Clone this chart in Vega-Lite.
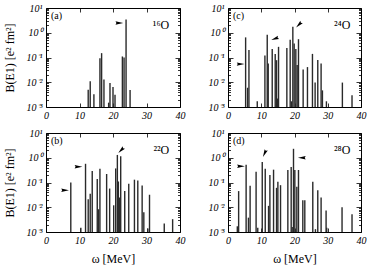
{
  "$schema": "https://vega.github.io/schema/vega-lite/v6.json",
  "padding": {"left": 2, "top": 2, "right": 2, "bottom": 0},
  "background": "white",
  "datasets": {
    "bars": [
      {"p":"a","w":12.6,"b":0.005},{"p":"a","w":13.2,"b":0.011},{"p":"a","w":14.3,"b":0.0033},{"p":"a","w":16.1,"b":0.094},{"p":"a","w":16.6,"b":0.15},{"p":"a","w":17.3,"b":0.013},{"p":"a","w":18.7,"b":0.0015},{"p":"a","w":19.1,"b":0.0093},{"p":"a","w":20.0,"b":0.0064},{"p":"a","w":20.6,"b":0.0031},{"p":"a","w":22.8,"b":0.11},{"p":"a","w":23.3,"b":0.1},{"p":"a","w":23.9,"b":3.4},{"p":"a","w":25.1,"b":0.0049},
      {"p":"b","w":7.4,"b":0.1},{"p":"b","w":10.4,"b":0.0015},{"p":"b","w":11.8,"b":0.57},{"p":"b","w":12.6,"b":0.021},{"p":"b","w":13.2,"b":0.035},{"p":"b","w":13.8,"b":0.29},{"p":"b","w":15.3,"b":0.14},{"p":"b","w":15.7,"b":0.0083},{"p":"b","w":16.1,"b":0.36},{"p":"b","w":18.1,"b":0.22},{"p":"b","w":19.0,"b":0.057},{"p":"b","w":20.2,"b":0.012},{"p":"b","w":20.8,"b":0.37},{"p":"b","w":21.3,"b":1.3},{"p":"b","w":21.6,"b":0.11},{"p":"b","w":22.0,"b":0.025},{"p":"b","w":22.3,"b":1.15},{"p":"b","w":23.5,"b":0.045},{"p":"b","w":24.7,"b":0.09},{"p":"b","w":26.4,"b":0.13},{"p":"b","w":27.4,"b":0.12},{"p":"b","w":28.7,"b":0.075},{"p":"b","w":29.2,"b":0.0063},{"p":"b","w":30.4,"b":0.0014},{"p":"b","w":30.9,"b":0.032},{"p":"b","w":35.3,"b":0.0022},{"p":"b","w":37.8,"b":0.0033},
      {"p":"c","w":5.3,"b":0.65},{"p":"c","w":5.9,"b":0.006},{"p":"c","w":6.3,"b":0.2},{"p":"c","w":8.8,"b":0.0017},{"p":"c","w":11.1,"b":0.12},{"p":"c","w":11.8,"b":0.83},{"p":"c","w":12.1,"b":0.057},{"p":"c","w":13.3,"b":0.22},{"p":"c","w":14.2,"b":0.14},{"p":"c","w":14.6,"b":0.078},{"p":"c","w":14.9,"b":0.0022},{"p":"c","w":15.2,"b":0.27},{"p":"c","w":17.7,"b":0.24},{"p":"c","w":18.7,"b":0.52},{"p":"c","w":19.1,"b":0.0017},{"p":"c","w":19.5,"b":1.75},{"p":"c","w":19.9,"b":0.37},{"p":"c","w":20.4,"b":0.22},{"p":"c","w":20.8,"b":0.05},{"p":"c","w":21.2,"b":0.55},{"p":"c","w":22.6,"b":0.033},{"p":"c","w":23.9,"b":0.041},{"p":"c","w":25.4,"b":0.14},{"p":"c","w":26.2,"b":0.0097},{"p":"c","w":27.0,"b":0.08},{"p":"c","w":28.0,"b":0.057},{"p":"c","w":28.4,"b":0.0047},{"p":"c","w":29.6,"b":0.0017},{"p":"c","w":34.4,"b":0.0097},{"p":"c","w":37.3,"b":0.003},
      {"p":"d","w":2.8,"b":0.0017},{"p":"d","w":3.2,"b":0.045},{"p":"d","w":5.45,"b":0.52},{"p":"d","w":6.15,"b":0.0038},{"p":"d","w":6.65,"b":0.074},{"p":"d","w":8.45,"b":0.27},{"p":"d","w":8.95,"b":0.0015},{"p":"d","w":10.3,"b":0.68},{"p":"d","w":11.2,"b":0.36},{"p":"d","w":12.2,"b":0.0114},{"p":"d","w":12.6,"b":0.2},{"p":"d","w":13.7,"b":0.33},{"p":"d","w":14.6,"b":0.061},{"p":"d","w":15.0,"b":0.107},{"p":"d","w":15.8,"b":0.078},{"p":"d","w":18.0,"b":0.32},{"p":"d","w":19.0,"b":0.42},{"p":"d","w":19.3,"b":0.0016},{"p":"d","w":19.7,"b":2.3},{"p":"d","w":20.1,"b":0.32},{"p":"d","w":20.7,"b":0.068},{"p":"d","w":21.2,"b":0.32},{"p":"d","w":22.5,"b":0.019},{"p":"d","w":23.1,"b":0.019},{"p":"d","w":25.5,"b":0.107},{"p":"d","w":26.3,"b":0.0013},{"p":"d","w":27.0,"b":0.049},{"p":"d","w":28.0,"b":0.025},{"p":"d","w":29.5,"b":0.0074},{"p":"d","w":29.7,"b":0.0015},{"p":"d","w":34.3,"b":0.01},{"p":"d","w":37.3,"b":0.0052}
    ],
    "marks": [
      {"p":"a","w":21.9,"b":2.5,"dir":"right"},
      {"p":"b","w":5.7,"b":0.049,"dir":"right"},{"p":"b","w":9.7,"b":0.43,"dir":"right"},{"p":"b","w":22.4,"b":2.0,"dir":"downleft"},
      {"p":"c","w":3.8,"b":0.054,"dir":"right"},{"p":"c","w":14.1,"b":0.57,"dir":"leftdown"},{"p":"c","w":21.3,"b":2.1,"dir":"downleft"},
      {"p":"d","w":3.9,"b":0.45,"dir":"right"},{"p":"d","w":11.0,"b":1.5,"dir":"down"},{"p":"d","w":22.2,"b":1.0,"dir":"left"}
    ],
    "labels": [
      {"p":"a","tag":"(a)","nuc":"¹⁶O"},{"p":"b","tag":"(b)","nuc":"²²O"},{"p":"c","tag":"(c)","nuc":"²⁴O"},{"p":"d","tag":"(d)","nuc":"²⁸O"}
    ]
  },
  "vconcat": [
    {"hconcat": [
      {"width": 134, "height": 99,
       "layer": [
        {"data": {"name": "bars"}, "transform": [{"filter": "datum.p == 'a'"}],
         "mark": {"type": "rule", "color": "#2a2a2a", "strokeWidth": 1.4},
         "encoding": {
           "x": {"field": "w", "type": "quantitative", "scale": {"domain": [0, 40], "nice": false, "zero": false},
                 "axis": {"values": [0,10,20,30,40], "tickSize": -4, "labelPadding": 7.5, "title": null, "labelFlush": false, "domain": false}},
           "y": {"field": "b", "type": "quantitative", "scale": {"type": "log", "domain": [0.001, 10], "nice": false},
                 "axis": {"values": [0.001,0.002,0.003,0.004,0.005,0.006,0.007,0.008,0.009,0.01,0.02,0.03,0.04,0.05,0.06,0.07,0.08,0.09,0.1,0.2,0.3,0.4,0.5,0.6,0.7,0.8,0.9,1,2,3,4,5,6,7,8,9,10],
                          "tickSize": {"condition": {"test": "abs(log(datum.value)/LN10 - round(log(datum.value)/LN10)) < 0.001", "value": -5}, "value": -2.5},
                          "labelExpr": "abs(log(datum.value)/LN10 - round(log(datum.value)/LN10)) > 0.001 ? '' : (datum.value > 5 ? '10¹' : datum.value > 0.5 ? '10⁰' : datum.value > 0.05 ? '10⁻¹' : datum.value > 0.005 ? '10⁻²' : '10⁻³')",
                          "labelPadding": 9, "labelOverlap": false, "labelFlush": false, "title": "B(E1) [e² fm²]", "titlePadding": 10, "domain": false}},
           "y2": {"datum": 0.001}
         }},
        {"data": {"name": "marks"}, "transform": [{"filter": "datum.p == 'a'"}],
         "mark": {"type": "point", "filled": true, "color": "black", "size": 60, "opacity": 1},
         "encoding": {
           "x": {"field": "w", "type": "quantitative", "axis": null},
           "y": {"field": "b", "type": "quantitative", "axis": null},
           "shape": {"field": "dir", "type": "nominal", "legend": null, "scale": {"domain": ["right","left","downleft","leftdown","down"], "range": ["M1,0L-1,-0.45L-0.75,0L-1,0.45Z","M-1,0L1,-0.45L0.75,0L1,0.45Z","M-0.707,0.707L1.025,-0.389L0.53,-0.53L0.389,-1.025Z","M-0.94,0.342L1.094,0.081L0.705,-0.257L0.786,-0.765Z","M-0.423,0.906L0.83,-0.716L0.317,-0.68L0.015,-1.097Z"]}}
         }},
        {"data": {"name": "labels"}, "transform": [{"filter": "datum.p == 'a'"}],
         "mark": {"type": "text", "align": "left", "baseline": "middle", "font": "Liberation Serif", "fontSize": 10},
         "encoding": {"x": {"datum": 1.5, "type": "quantitative", "axis": null}, "y": {"datum": 4.6, "type": "quantitative", "axis": null}, "text": {"field": "tag"}}},
        {"data": {"name": "labels"}, "transform": [{"filter": "datum.p == 'a'"}],
         "mark": {"type": "text", "align": "right", "baseline": "middle", "font": "Liberation Serif", "fontSize": 12},
         "encoding": {"x": {"datum": 36.8, "type": "quantitative", "axis": null}, "y": {"datum": 2.0, "type": "quantitative", "axis": null}, "text": {"field": "nuc"}}},
        {"data": {"name": "bars"}, "transform": [{"filter": "datum.p == 'a'"}],
         "mark": {"type": "point", "opacity": 0},
         "encoding": {
           "x": {"field": "w", "type": "quantitative", "axis": {"orient": "top", "values": [0,10,20,30,40], "tickSize": -4, "labels": false, "title": null, "domain": false}},
           "y": {"field": "b", "type": "quantitative", "axis": {"orient": "right", "values": [0.001,0.002,0.003,0.004,0.005,0.006,0.007,0.008,0.009,0.01,0.02,0.03,0.04,0.05,0.06,0.07,0.08,0.09,0.1,0.2,0.3,0.4,0.5,0.6,0.7,0.8,0.9,1,2,3,4,5,6,7,8,9,10],
             "tickSize": {"condition": {"test": "abs(log(datum.value)/LN10 - round(log(datum.value)/LN10)) < 0.001", "value": -5}, "value": -2.5}, "labels": false, "title": null, "domain": false}}
         }}
       ],
       "resolve": {"axis": {"x": "independent", "y": "independent"}}
      },
      {"width": 133, "height": 99,
       "layer": [
        {"data": {"name": "bars"}, "transform": [{"filter": "datum.p == 'c'"}],
         "mark": {"type": "rule", "color": "#2a2a2a", "strokeWidth": 1.4},
         "encoding": {
           "x": {"field": "w", "type": "quantitative", "scale": {"domain": [0, 40], "nice": false, "zero": false},
                 "axis": {"values": [0,10,20,30,40], "tickSize": -4, "labelPadding": 7.5, "title": null, "labelFlush": false, "domain": false}},
           "y": {"field": "b", "type": "quantitative", "scale": {"type": "log", "domain": [0.001, 10], "nice": false},
                 "axis": {"values": [0.001,0.002,0.003,0.004,0.005,0.006,0.007,0.008,0.009,0.01,0.02,0.03,0.04,0.05,0.06,0.07,0.08,0.09,0.1,0.2,0.3,0.4,0.5,0.6,0.7,0.8,0.9,1,2,3,4,5,6,7,8,9,10],
                          "tickSize": {"condition": {"test": "abs(log(datum.value)/LN10 - round(log(datum.value)/LN10)) < 0.001", "value": -5}, "value": -2.5},
                          "labelExpr": "abs(log(datum.value)/LN10 - round(log(datum.value)/LN10)) > 0.001 ? '' : (datum.value > 5 ? '10¹' : datum.value > 0.5 ? '10⁰' : datum.value > 0.05 ? '10⁻¹' : datum.value > 0.005 ? '10⁻²' : '10⁻³')",
                          "labelPadding": 9, "labelOverlap": false, "labelFlush": false, "title": null, "domain": false}},
           "y2": {"datum": 0.001}
         }},
        {"data": {"name": "marks"}, "transform": [{"filter": "datum.p == 'c'"}],
         "mark": {"type": "point", "filled": true, "color": "black", "size": 60, "opacity": 1},
         "encoding": {
           "x": {"field": "w", "type": "quantitative", "axis": null},
           "y": {"field": "b", "type": "quantitative", "axis": null},
           "shape": {"field": "dir", "type": "nominal", "legend": null, "scale": {"domain": ["right","left","downleft","leftdown","down"], "range": ["M1,0L-1,-0.45L-0.75,0L-1,0.45Z","M-1,0L1,-0.45L0.75,0L1,0.45Z","M-0.707,0.707L1.025,-0.389L0.53,-0.53L0.389,-1.025Z","M-0.94,0.342L1.094,0.081L0.705,-0.257L0.786,-0.765Z","M-0.423,0.906L0.83,-0.716L0.317,-0.68L0.015,-1.097Z"]}}
         }},
        {"data": {"name": "labels"}, "transform": [{"filter": "datum.p == 'c'"}],
         "mark": {"type": "text", "align": "left", "baseline": "middle", "font": "Liberation Serif", "fontSize": 10},
         "encoding": {"x": {"datum": 1.5, "type": "quantitative", "axis": null}, "y": {"datum": 4.6, "type": "quantitative", "axis": null}, "text": {"field": "tag"}}},
        {"data": {"name": "labels"}, "transform": [{"filter": "datum.p == 'c'"}],
         "mark": {"type": "text", "align": "right", "baseline": "middle", "font": "Liberation Serif", "fontSize": 12},
         "encoding": {"x": {"datum": 36.8, "type": "quantitative", "axis": null}, "y": {"datum": 2.0, "type": "quantitative", "axis": null}, "text": {"field": "nuc"}}},
        {"data": {"name": "bars"}, "transform": [{"filter": "datum.p == 'c'"}],
         "mark": {"type": "point", "opacity": 0},
         "encoding": {
           "x": {"field": "w", "type": "quantitative", "axis": {"orient": "top", "values": [0,10,20,30,40], "tickSize": -4, "labels": false, "title": null, "domain": false}},
           "y": {"field": "b", "type": "quantitative", "axis": {"orient": "right", "values": [0.001,0.002,0.003,0.004,0.005,0.006,0.007,0.008,0.009,0.01,0.02,0.03,0.04,0.05,0.06,0.07,0.08,0.09,0.1,0.2,0.3,0.4,0.5,0.6,0.7,0.8,0.9,1,2,3,4,5,6,7,8,9,10],
             "tickSize": {"condition": {"test": "abs(log(datum.value)/LN10 - round(log(datum.value)/LN10)) < 0.001", "value": -5}, "value": -2.5}, "labels": false, "title": null, "domain": false}}
         }}
       ],
       "resolve": {"axis": {"x": "independent", "y": "independent"}}
      }
    ], "spacing": 21},
    {"hconcat": [
      {"width": 134, "height": 99,
       "layer": [
        {"data": {"name": "bars"}, "transform": [{"filter": "datum.p == 'b'"}],
         "mark": {"type": "rule", "color": "#2a2a2a", "strokeWidth": 1.4},
         "encoding": {
           "x": {"field": "w", "type": "quantitative", "scale": {"domain": [0, 40], "nice": false, "zero": false},
                 "axis": {"values": [0,10,20,30,40], "tickSize": -4, "labelPadding": 7.5, "title": "ω [MeV]", "titlePadding": 8, "labelFlush": false, "domain": false}},
           "y": {"field": "b", "type": "quantitative", "scale": {"type": "log", "domain": [0.001, 10], "nice": false},
                 "axis": {"values": [0.001,0.002,0.003,0.004,0.005,0.006,0.007,0.008,0.009,0.01,0.02,0.03,0.04,0.05,0.06,0.07,0.08,0.09,0.1,0.2,0.3,0.4,0.5,0.6,0.7,0.8,0.9,1,2,3,4,5,6,7,8,9,10],
                          "tickSize": {"condition": {"test": "abs(log(datum.value)/LN10 - round(log(datum.value)/LN10)) < 0.001", "value": -5}, "value": -2.5},
                          "labelExpr": "abs(log(datum.value)/LN10 - round(log(datum.value)/LN10)) > 0.001 ? '' : (datum.value > 5 ? '10¹' : datum.value > 0.5 ? '10⁰' : datum.value > 0.05 ? '10⁻¹' : datum.value > 0.005 ? '10⁻²' : '10⁻³')",
                          "labelPadding": 9, "labelOverlap": false, "labelFlush": false, "title": "B(E1) [e² fm²]", "titlePadding": 10, "domain": false}},
           "y2": {"datum": 0.001}
         }},
        {"data": {"name": "marks"}, "transform": [{"filter": "datum.p == 'b'"}],
         "mark": {"type": "point", "filled": true, "color": "black", "size": 60, "opacity": 1},
         "encoding": {
           "x": {"field": "w", "type": "quantitative", "axis": null},
           "y": {"field": "b", "type": "quantitative", "axis": null},
           "shape": {"field": "dir", "type": "nominal", "legend": null, "scale": {"domain": ["right","left","downleft","leftdown","down"], "range": ["M1,0L-1,-0.45L-0.75,0L-1,0.45Z","M-1,0L1,-0.45L0.75,0L1,0.45Z","M-0.707,0.707L1.025,-0.389L0.53,-0.53L0.389,-1.025Z","M-0.94,0.342L1.094,0.081L0.705,-0.257L0.786,-0.765Z","M-0.423,0.906L0.83,-0.716L0.317,-0.68L0.015,-1.097Z"]}}
         }},
        {"data": {"name": "labels"}, "transform": [{"filter": "datum.p == 'b'"}],
         "mark": {"type": "text", "align": "left", "baseline": "middle", "font": "Liberation Serif", "fontSize": 10},
         "encoding": {"x": {"datum": 1.5, "type": "quantitative", "axis": null}, "y": {"datum": 4.6, "type": "quantitative", "axis": null}, "text": {"field": "tag"}}},
        {"data": {"name": "labels"}, "transform": [{"filter": "datum.p == 'b'"}],
         "mark": {"type": "text", "align": "right", "baseline": "middle", "font": "Liberation Serif", "fontSize": 12},
         "encoding": {"x": {"datum": 36.8, "type": "quantitative", "axis": null}, "y": {"datum": 2.0, "type": "quantitative", "axis": null}, "text": {"field": "nuc"}}},
        {"data": {"name": "bars"}, "transform": [{"filter": "datum.p == 'b'"}],
         "mark": {"type": "point", "opacity": 0},
         "encoding": {
           "x": {"field": "w", "type": "quantitative", "axis": {"orient": "top", "values": [0,10,20,30,40], "tickSize": -4, "labels": false, "title": null, "domain": false}},
           "y": {"field": "b", "type": "quantitative", "axis": {"orient": "right", "values": [0.001,0.002,0.003,0.004,0.005,0.006,0.007,0.008,0.009,0.01,0.02,0.03,0.04,0.05,0.06,0.07,0.08,0.09,0.1,0.2,0.3,0.4,0.5,0.6,0.7,0.8,0.9,1,2,3,4,5,6,7,8,9,10],
             "tickSize": {"condition": {"test": "abs(log(datum.value)/LN10 - round(log(datum.value)/LN10)) < 0.001", "value": -5}, "value": -2.5}, "labels": false, "title": null, "domain": false}}
         }}
       ],
       "resolve": {"axis": {"x": "independent", "y": "independent"}}
      },
      {"width": 133, "height": 99,
       "layer": [
        {"data": {"name": "bars"}, "transform": [{"filter": "datum.p == 'd'"}],
         "mark": {"type": "rule", "color": "#2a2a2a", "strokeWidth": 1.4},
         "encoding": {
           "x": {"field": "w", "type": "quantitative", "scale": {"domain": [0, 40], "nice": false, "zero": false},
                 "axis": {"values": [0,10,20,30,40], "tickSize": -4, "labelPadding": 7.5, "title": "ω [MeV]", "titlePadding": 8, "labelFlush": false, "domain": false}},
           "y": {"field": "b", "type": "quantitative", "scale": {"type": "log", "domain": [0.001, 10], "nice": false},
                 "axis": {"values": [0.001,0.002,0.003,0.004,0.005,0.006,0.007,0.008,0.009,0.01,0.02,0.03,0.04,0.05,0.06,0.07,0.08,0.09,0.1,0.2,0.3,0.4,0.5,0.6,0.7,0.8,0.9,1,2,3,4,5,6,7,8,9,10],
                          "tickSize": {"condition": {"test": "abs(log(datum.value)/LN10 - round(log(datum.value)/LN10)) < 0.001", "value": -5}, "value": -2.5},
                          "labelExpr": "abs(log(datum.value)/LN10 - round(log(datum.value)/LN10)) > 0.001 ? '' : (datum.value > 5 ? '10¹' : datum.value > 0.5 ? '10⁰' : datum.value > 0.05 ? '10⁻¹' : datum.value > 0.005 ? '10⁻²' : '10⁻³')",
                          "labelPadding": 9, "labelOverlap": false, "labelFlush": false, "title": null, "domain": false}},
           "y2": {"datum": 0.001}
         }},
        {"data": {"name": "marks"}, "transform": [{"filter": "datum.p == 'd'"}],
         "mark": {"type": "point", "filled": true, "color": "black", "size": 60, "opacity": 1},
         "encoding": {
           "x": {"field": "w", "type": "quantitative", "axis": null},
           "y": {"field": "b", "type": "quantitative", "axis": null},
           "shape": {"field": "dir", "type": "nominal", "legend": null, "scale": {"domain": ["right","left","downleft","leftdown","down"], "range": ["M1,0L-1,-0.45L-0.75,0L-1,0.45Z","M-1,0L1,-0.45L0.75,0L1,0.45Z","M-0.707,0.707L1.025,-0.389L0.53,-0.53L0.389,-1.025Z","M-0.94,0.342L1.094,0.081L0.705,-0.257L0.786,-0.765Z","M-0.423,0.906L0.83,-0.716L0.317,-0.68L0.015,-1.097Z"]}}
         }},
        {"data": {"name": "labels"}, "transform": [{"filter": "datum.p == 'd'"}],
         "mark": {"type": "text", "align": "left", "baseline": "middle", "font": "Liberation Serif", "fontSize": 10},
         "encoding": {"x": {"datum": 1.5, "type": "quantitative", "axis": null}, "y": {"datum": 4.6, "type": "quantitative", "axis": null}, "text": {"field": "tag"}}},
        {"data": {"name": "labels"}, "transform": [{"filter": "datum.p == 'd'"}],
         "mark": {"type": "text", "align": "right", "baseline": "middle", "font": "Liberation Serif", "fontSize": 12},
         "encoding": {"x": {"datum": 36.8, "type": "quantitative", "axis": null}, "y": {"datum": 2.0, "type": "quantitative", "axis": null}, "text": {"field": "nuc"}}},
        {"data": {"name": "bars"}, "transform": [{"filter": "datum.p == 'd'"}],
         "mark": {"type": "point", "opacity": 0},
         "encoding": {
           "x": {"field": "w", "type": "quantitative", "axis": {"orient": "top", "values": [0,10,20,30,40], "tickSize": -4, "labels": false, "title": null, "domain": false}},
           "y": {"field": "b", "type": "quantitative", "axis": {"orient": "right", "values": [0.001,0.002,0.003,0.004,0.005,0.006,0.007,0.008,0.009,0.01,0.02,0.03,0.04,0.05,0.06,0.07,0.08,0.09,0.1,0.2,0.3,0.4,0.5,0.6,0.7,0.8,0.9,1,2,3,4,5,6,7,8,9,10],
             "tickSize": {"condition": {"test": "abs(log(datum.value)/LN10 - round(log(datum.value)/LN10)) < 0.001", "value": -5}, "value": -2.5}, "labels": false, "title": null, "domain": false}}
         }}
       ],
       "resolve": {"axis": {"x": "independent", "y": "independent"}}
      }
    ], "spacing": 21}
  ],
  "spacing": 6,
  "config": {
    "view": {"stroke": "black", "strokeWidth": 1},
    "axis": {"grid": false, "domain": false, "labelFont": "Liberation Serif", "labelFontStyle": "italic", "labelFontSize": 10, "labelColor": "black", "tickColor": "black", "tickWidth": 0.8, "titleFont": "Liberation Serif", "titleFontWeight": "normal", "titleFontSize": 12, "titleColor": "black"}
  }
}
